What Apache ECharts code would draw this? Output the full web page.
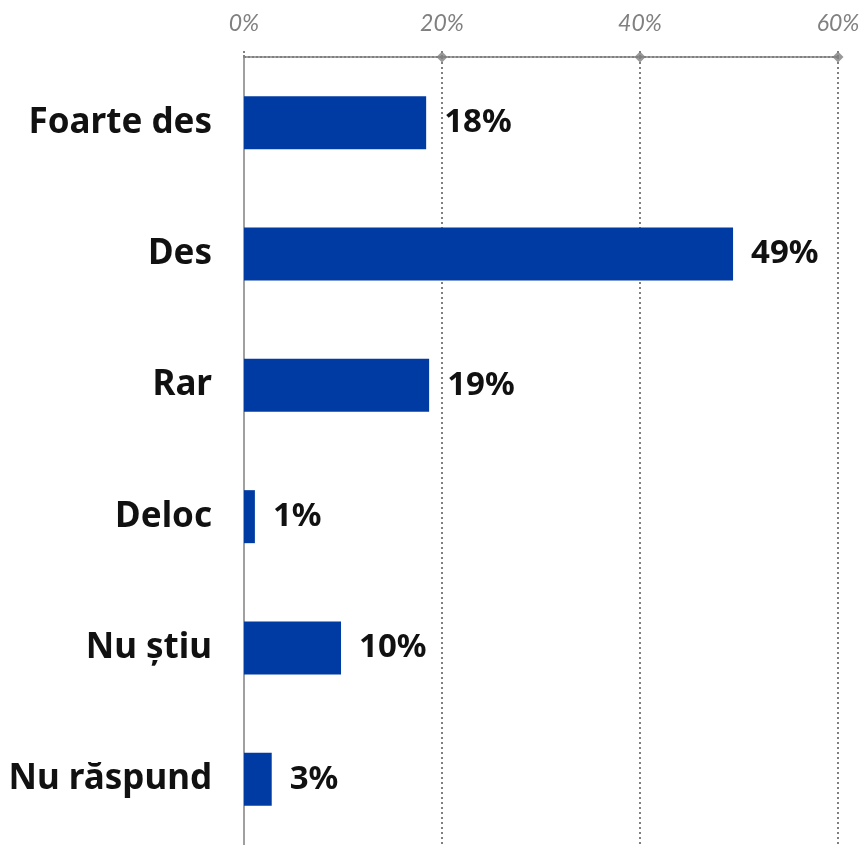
<!DOCTYPE html>
<html>
<head>
<meta charset="utf-8">
<script src="https://cdn.jsdelivr.net/npm/echarts@6/dist/echarts.min.js"></script>
<style>
  html, body { margin: 0; padding: 0; background: #fff; }
  #chart { width: 867px; height: 845px; }
</style>
</head>
<body>
<div id="chart"></div>
<script>
const categories = ['Foarte des', 'Des', 'Rar', 'Deloc', 'Nu știu', 'Nu răspund'];
// bar lengths as measured, labels show the rounded percent
const values = [18.4, 49.4, 18.7, 1.1, 9.8, 2.8];
const tickMarks = [20, 40, 60]; // diamond markers on the top axis

let myChart = echarts.init(document.getElementById('chart'));

const gray = '#808080';

let option = {
  animation: false,
  grid: { left: 244, top: 57, right: 29, height: 790 },
  xAxis: {
    type: 'value',
    position: 'top',
    min: 0,
    max: 60,
    interval: 20,
    axisLine: { show: true, onZero: false, lineStyle: { color: gray, type: [2, 2], width: 2 } },
    axisTick: { show: true, length: 7, lineStyle: { color: gray, type: [2, 2], width: 2 } },
    axisLabel: {
      formatter: '{value}%',
      color: gray,
      fontStyle: 'italic',
      fontFamily: 'Lato',
      fontSize: 23,
      margin: 22
    },
    splitLine: { show: true, lineStyle: { color: gray, type: [2, 3], width: 2 } }
  },
  yAxis: [{
    type: 'category',
    inverse: true,
    data: categories,
    axisLine: { lineStyle: { color: '#a0a0a0', width: 2 } },
    axisTick: { length: 11, lineStyle: { color: '#a0a0a0', width: 2 } },
    axisLabel: {
      color: '#111',
      fontWeight: 'bold',
      fontFamily: 'Noto Sans',
      fontSize: 35,
      margin: 32
    }
  }, {
    type: 'value',
    min: 0,
    max: 1,
    show: false
  }],
  series: [{
    type: 'bar',
    data: values,
    barWidth: 53,
    itemStyle: { color: '#003BA3' },
    label: {
      show: true,
      position: 'right',
      distance: 18,
      formatter: function (p) { return Math.round(p.value) + '%'; },
      color: '#111',
      fontWeight: 'bold',
      fontFamily: 'Noto Sans',
      fontSize: 33
    }
  }, {
    type: 'scatter',
    yAxisIndex: 1,
    symbol: 'diamond',
    symbolSize: 11,
    clip: false,
    itemStyle: { color: gray },
    data: tickMarks.map(v => [v, 1])
  }]
};
myChart.setOption(option);

window.addEventListener('resize', function () {
  myChart.resize();
});
</script>
</body>
</html>
